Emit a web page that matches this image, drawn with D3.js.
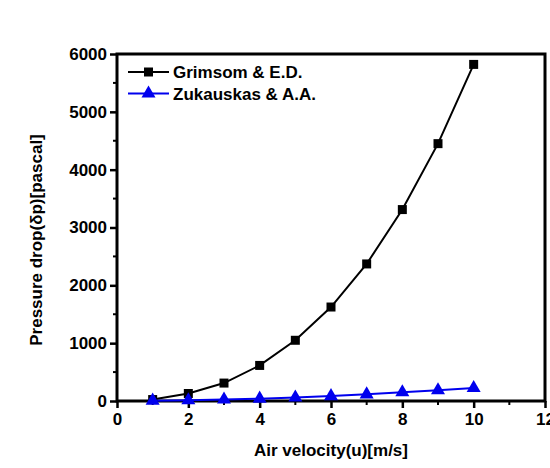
<!DOCTYPE html>
<html>
<head>
<meta charset="utf-8">
<script src="https://cdn.jsdelivr.net/npm/d3@7"></script>
<style>
  body { margin: 0; background: #fff; }
  text { font-family: "Liberation Sans", Arial, sans-serif; font-weight: bold; fill: #000; }
</style>
</head>
<body>
<div id="chart"></div>
<script>
var velocity = [1, 2, 3, 4, 5, 6, 7, 8, 9, 10];
var grimsom = [25, 130, 310, 615, 1050, 1625, 2370, 3310, 4450, 5820];
var zukauskas = [5, 12, 25, 40, 60, 85, 115, 150, 185, 225];
var xTicks = [0, 2, 4, 6, 8, 10, 12];
var yTicks = [0, 1000, 2000, 3000, 4000, 5000, 6000];

var width = 550, height = 468;
var plotL = 117, plotR = 545, plotT = 54, plotB = 401;

var svg = d3.select('#chart').append('svg')
  .attr('width', width)
  .attr('height', height);

var x = d3.scaleLinear().domain([0, 12]).range([plotL, plotR]);
var y = d3.scaleLinear().domain([0, 6000]).range([plotB, plotT]);

// minor ticks
var xMinor = d3.range(1, 12, 2);
var yMinor = d3.range(500, 6000, 1000);
svg.selectAll('.xminor').data(xMinor).enter().append('line')
  .attr('x1', d => x(d)).attr('x2', d => x(d))
  .attr('y1', plotB).attr('y2', plotB + 4)
  .attr('stroke', '#000').attr('stroke-width', 2);
svg.selectAll('.yminor').data(yMinor).enter().append('line')
  .attr('y1', d => y(d)).attr('y2', d => y(d))
  .attr('x1', plotL).attr('x2', plotL - 4)
  .attr('stroke', '#000').attr('stroke-width', 2);

var xAxis = svg.append('g')
  .attr('transform', 'translate(0,' + plotB + ')')
  .call(d3.axisBottom(x).tickValues(xTicks).tickSize(7).tickPadding(5).tickFormat(d3.format('d')));
var yAxis = svg.append('g')
  .attr('transform', 'translate(' + plotL + ',0)')
  .call(d3.axisLeft(y).tickValues(yTicks).tickSize(7).tickPadding(3).tickFormat(d3.format('d')));

[xAxis, yAxis].forEach(function(g) {
  g.select('.domain').remove();
  g.selectAll('.tick line').attr('stroke', '#000').attr('stroke-width', 2.5);
  g.selectAll('.tick text').style('font-size', '17px').attr('fill', '#000');
});

// frame
svg.append('rect')
  .attr('x', plotL).attr('y', plotT)
  .attr('width', plotR - plotL).attr('height', plotB - plotT)
  .attr('fill', 'none').attr('stroke', '#000').attr('stroke-width', 3);

var line = d3.line()
  .x(function(d, i) { return x(velocity[i]); })
  .y(function(d) { return y(d); });

svg.append('path').datum(grimsom)
  .attr('d', line).attr('fill', 'none').attr('stroke', '#000').attr('stroke-width', 2);
svg.append('path').datum(zukauskas)
  .attr('d', line).attr('fill', 'none').attr('stroke', '#0000ee').attr('stroke-width', 2);

var square = d3.symbol().type(d3.symbolSquare).size(81);
var triangle = d3.symbol().type(d3.symbolTriangle).size(85);

svg.selectAll('.sq').data(grimsom).enter().append('path')
  .attr('d', square)
  .attr('transform', function(d, i) { return 'translate(' + x(velocity[i]) + ',' + y(d) + ')'; })
  .attr('fill', '#000');
svg.selectAll('.tri').data(zukauskas).enter().append('path')
  .attr('d', triangle)
  .attr('transform', function(d, i) { return 'translate(' + x(velocity[i]) + ',' + y(d) + ')'; })
  .attr('fill', '#0000ee');

// legend
var legendData = [
  { label: 'Grimsom & E.D.', color: '#000', sym: square },
  { label: 'Zukauskas & A.A.', color: '#0000ee', sym: triangle }
];
var legend = svg.selectAll('.legend').data(legendData).enter().append('g')
  .attr('class', 'legend')
  .attr('transform', function(d, i) { return 'translate(128,' + (72 + i * 21.5) + ')'; });
legend.append('line')
  .attr('x1', 0).attr('x2', 41).attr('y1', 0).attr('y2', 0)
  .attr('stroke', d => d.color).attr('stroke-width', 2);
legend.append('path')
  .attr('d', d => d.sym())
  .attr('transform', 'translate(20.5,0)')
  .attr('fill', d => d.color);
legend.append('text')
  .attr('x', 45).attr('y', 6)
  .style('font-size', '17px')
  .text(d => d.label);

// axis titles
svg.append('text')
  .attr('x', (plotL + plotR) / 2).attr('y', 456)
  .attr('text-anchor', 'middle')
  .style('font-size', '17px')
  .text('Air velocity(u)[m/s]');
svg.append('text')
  .attr('transform', 'translate(42,240) rotate(-90)')
  .attr('text-anchor', 'middle')
  .style('font-size', '17px')
  .text('Pressure drop(δp)[pascal]');
</script>
</body>
</html>
